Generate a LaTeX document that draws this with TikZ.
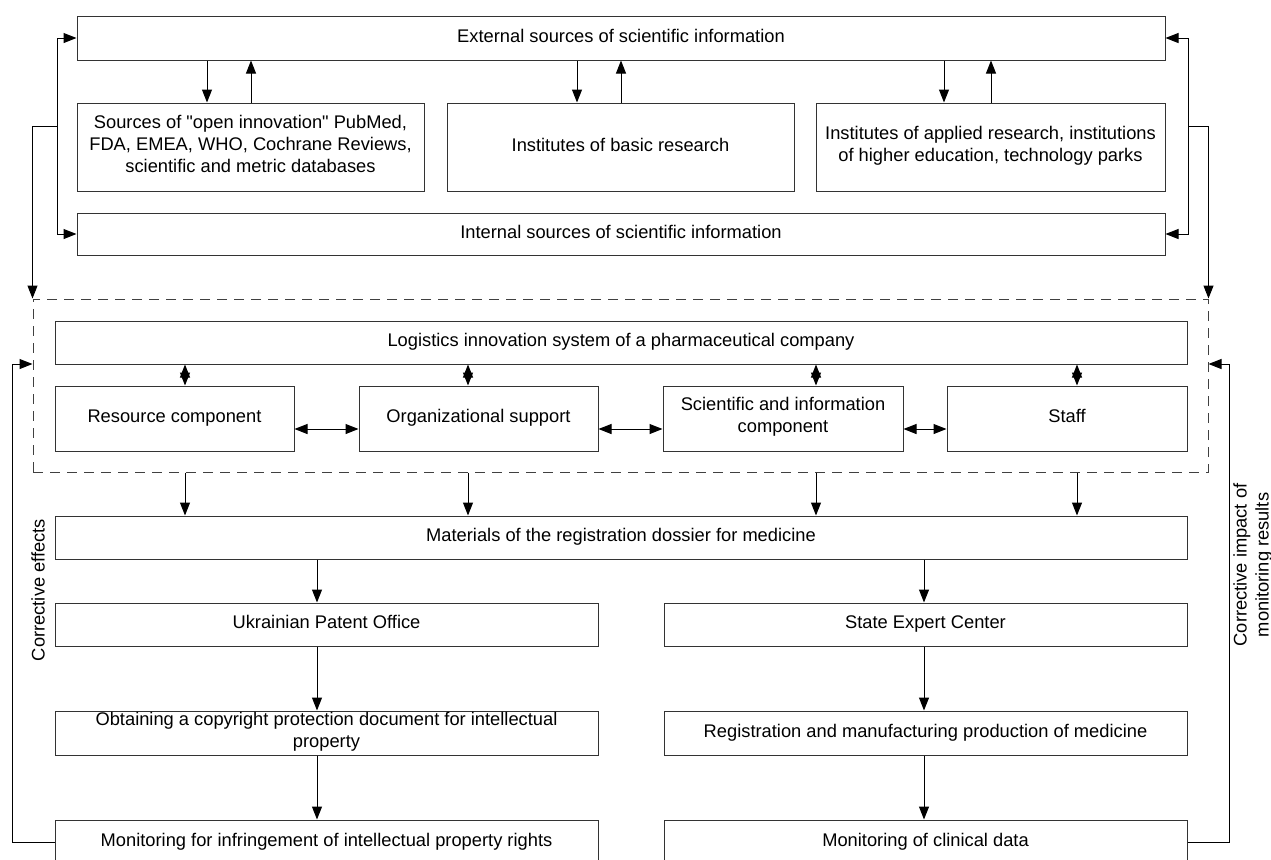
\documentclass[tikz,border=0pt]{standalone}
\usepackage{fontspec}
\setmainfont{Liberation Sans}[Ligatures=TeXOff]
\usetikzlibrary{arrows.meta}
\newcommand\bx[6]{\node[box, minimum width={(#4-#2)*0.5pt}, minimum height={(#5-#3)*0.5pt}] (#1) at ({(#2+#4)/2},{(#3+#5)/2}) {#6};}
\tikzset{
  box/.style={draw=black!80, line width=0.5pt, inner sep=0pt, align=center, font=\fontsize{9.15}{11}\selectfont,
    execute at begin node={\strut}, execute at end node={\strut}},
  arr/.style={line width=0.5pt, -{Triangle[length=6.5pt,width=5pt]}},
  darr/.style={line width=0.5pt, {Triangle[length=6.5pt,width=5pt]}-{Triangle[length=6.5pt,width=5pt]}},
  lbl/.style={font=\fontsize{9.15}{11}\selectfont, align=center, rotate=90, inner sep=0pt}
}
\begin{document}
\begin{tikzpicture}[x=0.5pt,y=-0.5pt]
\useasboundingbox (0,0) rectangle (1271,859);
% boxes
\bx{ext}{77}{16}{1165}{60}{External sources of scientific information}
\bx{src}{77}{103}{424}{191}{Sources of "open innovation" PubMed,\\FDA, EMEA, WHO, Cochrane Reviews,\\scientific and metric databases}
\bx{basic}{447}{103}{794}{191}{Institutes of basic research}
\bx{appl}{816}{103}{1165}{191}{Institutes of applied research, institutions\\of higher education, technology parks}
\bx{int}{77}{213}{1165}{255}{Internal sources of scientific information}
\node[draw=black!75, line width=0.5pt, dash pattern=on 5pt off 3.5pt, inner sep=0pt,
  minimum width={(1208-33)*0.5pt}, minimum height={(472-299)*0.5pt}] (sys) at ({(33+1208)/2},{(299+472)/2}) {};
\bx{log}{55}{321}{1187}{364}{Logistics innovation system of a pharmaceutical company}
\bx{res}{55}{386}{294}{451}{Resource component}
\bx{org}{359}{386}{598}{451}{Organizational support}
\bx{sci}{663}{386}{903}{451}{Scientific and information\\component}
\bx{staff}{947}{386}{1187}{451}{Staff}
\bx{mat}{55}{516}{1187}{559}{Materials of the registration dossier for medicine}
\bx{pat}{55}{603}{598}{646}{Ukrainian Patent Office}
\bx{sec}{664}{603}{1187}{646}{State Expert Center}
\bx{obt}{55}{711}{598}{755}{Obtaining a copyright protection document for intellectual\\property}
\bx{reg}{664}{711}{1187}{755}{Registration and manufacturing production of medicine}
\bx{mon1}{55}{820}{598}{864}{Monitoring for infringement of intellectual property rights}
\bx{mon2}{664}{820}{1187}{864}{Monitoring of clinical data}
% helper coordinates
\coordinate (a1) at (207,0); \coordinate (b1) at (251,0);
\coordinate (a2) at (577,0); \coordinate (b2) at (621,0);
\coordinate (a3) at (944,0); \coordinate (b3) at (991,0);
\coordinate (v1) at (185,0); \coordinate (v2) at (468,0);
\coordinate (v3) at (816,0); \coordinate (v4) at (1077,0);
\coordinate (hy) at (0,429);
\coordinate (pl) at (317,0); \coordinate (pr) at (924,0);
\coordinate (lb) at (57,126); \coordinate (rb) at (1188,126);
\coordinate (fl) at (12,364); \coordinate (fr) at (1229,364);
% top connectors
\draw[arr] (ext.south -| a1) -- (src.north -| a1);
\draw[arr] (src.north -| b1) -- (ext.south -| b1);
\draw[arr] (ext.south -| a2) -- (basic.north -| a2);
\draw[arr] (basic.north -| b2) -- (ext.south -| b2);
\draw[arr] (ext.south -| a3) -- (appl.north -| a3);
\draw[arr] (appl.north -| b3) -- (ext.south -| b3);
% brackets
\draw[arr] (lb) |- (ext.west);
\draw[arr] (lb) |- (int.west);
\draw[arr] (lb) -| (sys.north west);
\draw[arr] (rb) |- (ext.east);
\draw[arr] (rb) |- (int.east);
\draw[arr] (rb) -| (sys.north east);
% logistics to components
\draw[darr] (log.south -| v1) -- (res.north -| v1);
\draw[darr] (log.south -| v2) -- (org.north -| v2);
\draw[darr] (log.south -| v3) -- (sci.north -| v3);
\draw[darr] (log.south -| v4) -- (staff.north -| v4);
\draw[darr] (res.east |- hy) -- (org.west |- hy);
\draw[darr] (org.east |- hy) -- (sci.west |- hy);
\draw[darr] (sci.east |- hy) -- (staff.west |- hy);
% system to materials
\draw[arr] (sys.south -| v1) -- (mat.north -| v1);
\draw[arr] (sys.south -| v2) -- (mat.north -| v2);
\draw[arr] (sys.south -| v3) -- (mat.north -| v3);
\draw[arr] (sys.south -| v4) -- (mat.north -| v4);
% chains
\draw[arr] (mat.south -| pl) -- (pat.north -| pl);
\draw[arr] (pat.south -| pl) -- (obt.north -| pl);
\draw[arr] (obt.south -| pl) -- (mon1.north -| pl);
\draw[arr] (mat.south -| pr) -- (sec.north -| pr);
\draw[arr] (sec.south -| pr) -- (reg.north -| pr);
\draw[arr] (reg.south -| pr) -- (mon2.north -| pr);
% feedback
\draw[arr] (mon1.west) -| (fl) -- (fl -| sys.west);
\draw[arr] (mon2.east) -| (fr) -- (fr -| sys.east);
% labels
\node[lbl] (ce) at (38,590) {Corrective effects};
\node[lbl] (ci) at (1253,565) {Corrective impact of\\monitoring results};
\end{tikzpicture}
\end{document}
